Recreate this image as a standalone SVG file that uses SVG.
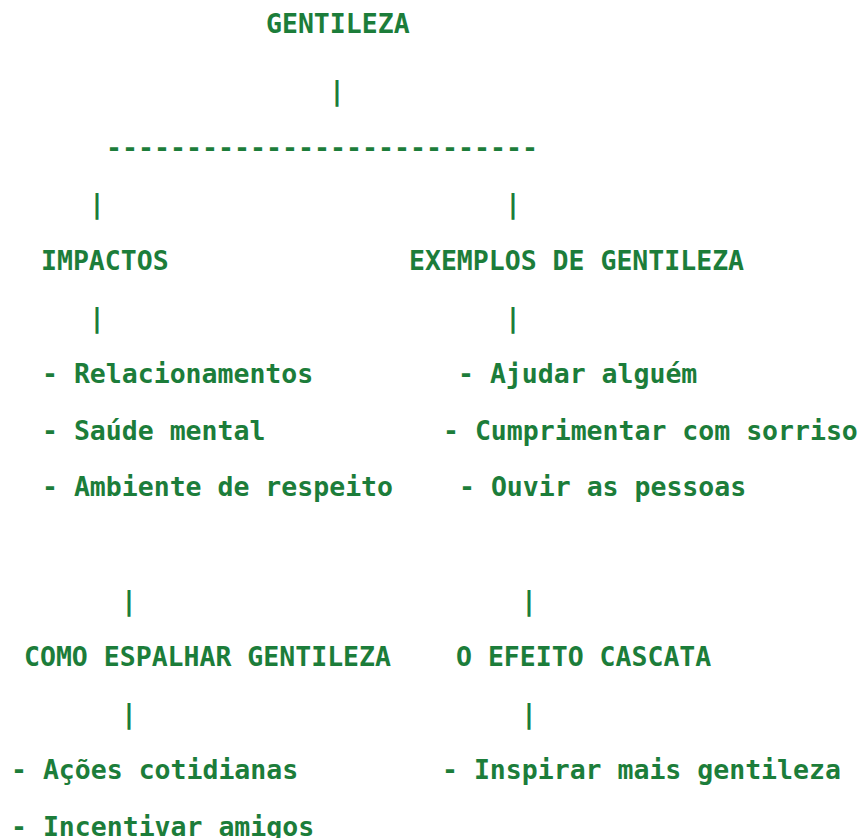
<svg xmlns="http://www.w3.org/2000/svg" width="858" height="838" viewBox="0 0 858 838">
<style>
text{font-family:"DejaVu Sans Mono","Liberation Mono",monospace;font-size:26.5px;font-weight:bold;fill:#1c7d3a}
.c{text-anchor:middle}
</style>
<rect width="858" height="838" fill="#ffffff"/>
<g id="connectors">
<text class="c" x="337" y="100">|</text>
<text x="106" y="156.8" textLength="432" lengthAdjust="spacing">---------------------------</text>
<text class="c" x="97" y="213.4">|</text>
<text class="c" x="513" y="213.4">|</text>
<text class="c" x="97" y="326.6">|</text>
<text class="c" x="513" y="326.6">|</text>
<text class="c" x="129" y="609.6">|</text>
<text class="c" x="529" y="609.6">|</text>
<text class="c" x="129" y="722.8">|</text>
<text class="c" x="529" y="722.8">|</text>
</g>
<g id="gentileza"><text x="266" y="33">GENTILEZA</text></g>
<g id="impactos">
<text x="41" y="270">IMPACTOS</text>
<text x="42" y="383.2">- Relacionamentos</text>
<text x="42" y="439.8">- Saúde mental</text>
<text x="42" y="496.4">- Ambiente de respeito</text>
</g>
<g id="exemplos">
<text x="409" y="270">EXEMPLOS DE GENTILEZA</text>
<text x="458" y="383.2">- Ajudar alguém</text>
<text x="443" y="439.8">- Cumprimentar com sorriso</text>
<text x="459" y="496.4">- Ouvir as pessoas</text>
</g>
<g id="como-espalhar">
<text x="24" y="666.2">COMO ESPALHAR GENTILEZA</text>
<text x="11" y="779.4">- Ações cotidianas</text>
<text x="11" y="836">- Incentivar amigos</text>
</g>
<g id="efeito-cascata">
<text x="456" y="666.2">O EFEITO CASCATA</text>
<text x="442" y="779.4">- Inspirar mais gentileza</text>
</g>
</svg>
